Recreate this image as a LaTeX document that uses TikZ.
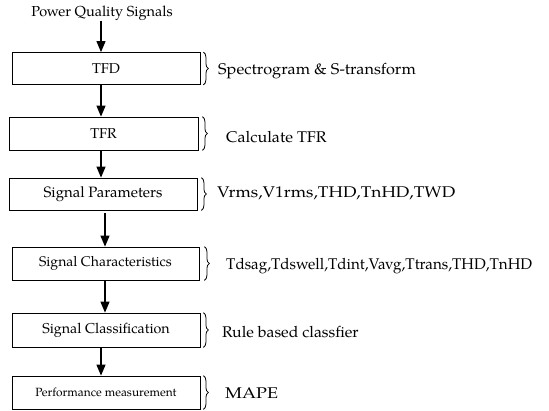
\documentclass[tikz,border=0pt]{standalone}
\usepackage{fontspec}
\setmainfont{TeX Gyre Pagella}
\usetikzlibrary{arrows.meta,decorations.pathreplacing}
\begin{document}
\begin{tikzpicture}[x=1pt,y=-1pt,
  box/.style={draw,line width=0.8pt,inner sep=0pt,font=\fontsize{14.3}{16}\selectfont},
  arr/.style={line width=1.2pt,-{Triangle[length=11pt,width=9pt]}},
  brc/.style={draw,line width=0.8pt,decorate,decoration={brace,amplitude=5pt}},
  side/.style={anchor=west,inner sep=0pt,font=\fontsize{15.5}{17}\selectfont}]
\useasboundingbox (0,0) rectangle (549,410);
\node[inner sep=0pt,font=\fontsize{14.5}{16}\selectfont] (title) at (102,13) {Power Quality Signals};
\node[box,minimum width=188pt,minimum height=32pt] (tfd) at (106,68.5) {TFD};
\node[box,minimum width=189pt,minimum height=33pt] (tfr) at (103.5,133.5) {TFR};
\node[box,minimum width=188pt,minimum height=32pt,font=\fontsize{15}{17}\selectfont] (par) at (103,194) {Signal Parameters};
\node[box,minimum width=187pt,minimum height=33pt,font=\fontsize{14}{16}\selectfont] (cha) at (105.5,263.5) {Signal Characteristics};
\node[box,minimum width=188pt,minimum height=34pt] (cla) at (106,330) {Signal Classification};
\node[box,minimum width=188pt,minimum height=33pt,font=\fontsize{11.9}{13}\selectfont] (per) at (106,392.5) {Performance measurement};
\coordinate (a1) at (101,0);
\coordinate (a2) at (105,0);
\draw[arr] (title.south -| a1) -- (tfd.north -| a1);
\draw[arr] (tfd.south -| a1) -- (tfr.north -| a1);
\draw[arr] (tfr.south -| a1) -- (par.north -| a1);
\draw[arr] ([yshift=-3pt]par.south -| a2) -- (cha.north -| a2);
\draw[arr] (cha.south -| a2) -- (cla.north -| a2);
\draw[arr] (cla.south -| a1) -- (per.north -| a1);
\draw[brc] ([xshift=3pt]tfd.north east) -- ([xshift=3pt]tfd.south east);
\draw[brc] ([xshift=4pt]tfr.north east) -- ([xshift=4pt]tfr.south east);
\draw[brc] ([xshift=4pt]par.north east) -- ([xshift=4pt]par.south east);
\draw[brc] ([xshift=5pt]cha.north east) -- ([xshift=5pt]cha.south east);
\draw[brc] ([xshift=3pt]cla.north east) -- ([xshift=3pt]cla.south east);
\draw[brc] ([xshift=3pt]per.north east) -- ([xshift=3pt]per.south east);
\node[side] (t1) at (218,71) {\scalebox{1.05}[1]{Spectrogram \& S-transform}};
\node[side] (t2) at (226,137) {\scalebox{1.04}[1]{Calculate TFR}};
\node[side] (t3) at (217,193) {\scalebox{1.12}[1]{Vrms,V1rms,THD,TnHD,TWD}};
\node[side] (t4) at (226,266) {\scalebox{0.98}[1]{Tdsag,Tdswell,Tdint,Vavg,Ttrans,THD,TnHD}};
\node[side] (t5) at (222,332) {\scalebox{1.02}[1]{Rule based classfier}};
\node[side] (t6) at (225,393) {\scalebox{1.16}[1]{MAPE}};
\end{tikzpicture}
\end{document}
